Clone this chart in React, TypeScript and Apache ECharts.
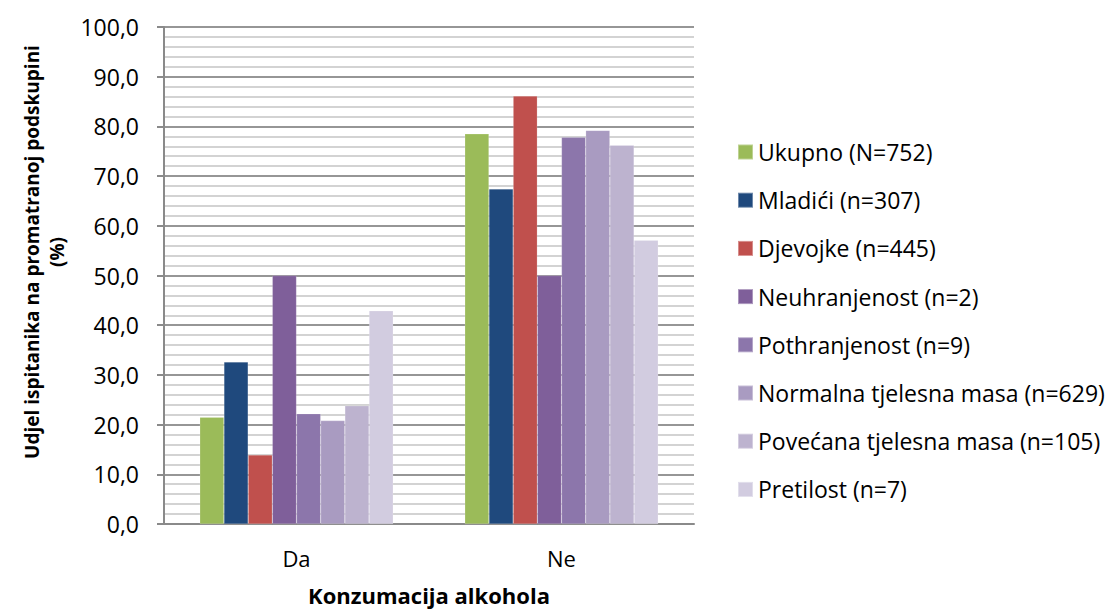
import React, { useEffect, useRef } from "react";
import * as echarts from "echarts";

const categories = ["Da", "Ne"];
const seriesNames = [
  "Ukupno (N=752)",
  "Mladići (n=307)",
  "Djevojke (n=445)",
  "Neuhranjenost (n=2)",
  "Pothranjenost (n=9)",
  "Normalna tjelesna masa (n=629)",
  "Povećana tjelesna masa (n=105)",
  "Pretilost (n=7)",
];
const ukupno = [21.5, 78.5];
const mladici = [32.6, 67.4];
const djevojke = [13.9, 86.1];
const neuhranjenost = [50.0, 50.0];
const pothranjenost = [22.2, 77.8];
const normalna = [20.8, 79.2];
const povecana = [23.8, 76.2];
const pretilost = [42.9, 57.1];
const seriesValues = [ukupno, mladici, djevojke, neuhranjenost, pothranjenost, normalna, povecana, pretilost];
const colors = ["#9BBB59", "#1F497D", "#C0504D", "#7F5F9A", "#8C76AB", "#A99BC1", "#BDB3CF", "#D2CCE0"];

const FONT = "'Open Sans', 'Noto Sans', sans-serif";

export default function App() {
  const ref = useRef<HTMLDivElement>(null);
  useEffect(() => {
    if (!ref.current) return;
    const chart = echarts.init(ref.current, null, { renderer: "svg" });
    chart.setOption({
      animation: false,
      backgroundColor: "#ffffff",
      color: colors,
      textStyle: { fontFamily: FONT },
      grid: { left: 164, right: 417, top: 27, bottom: 86, containLabel: false },
      legend: {
        orient: "vertical",
        left: 737,
        top: 140,
        padding: 0,
        itemWidth: 15,
        itemHeight: 15,
        itemGap: 24.2,
        icon: "rect",
        textStyle: { fontFamily: FONT, fontSize: 23, color: "#000", lineHeight: 24, padding: [0, 0, 0, 0] },
        data: seriesNames,
      },
      xAxis: {
        type: "category",
        data: categories,
        axisLine: { show: true, lineStyle: { color: "#8a8a8a", width: 2 } },
        axisTick: { show: false },
        axisLabel: { color: "#000", fontSize: 22, fontFamily: FONT, margin: 23 },
      },
      yAxis: {
        type: "value",
        min: 0,
        max: 100,
        interval: 10,
        axisLine: { show: true, lineStyle: { color: "#8a8a8a", width: 2 } },
        axisTick: { show: true, length: 7, lineStyle: { color: "#8a8a8a", width: 2 } },
        axisLabel: {
          color: "#000",
          fontSize: 23,
          fontFamily: FONT,
          margin: 25,
          formatter: (v: number) => v.toFixed(1).replace(".", ","),
        },
        splitLine: { show: true, lineStyle: { color: "#969696", width: 2 } },
        minorTick: { show: false, splitNumber: 5 },
        minorSplitLine: { show: true, lineStyle: { color: "#c4c4c4", width: 1.5 } },
      },
      graphic: [
        {
          type: "text",
          x: 44,
          y: 252,
          rotation: Math.PI / 2,
          style: {
            text: "Udjel ispitanika na promatranoj podskupini\n(%)",
            fontFamily: FONT,
            fontWeight: "bold",
            fontSize: 19,
            lineHeight: 25,
            fill: "#000",
            align: "center",
            verticalAlign: "middle",
          },
        },
        {
          type: "text",
          x: 429,
          y: 595,
          style: {
            text: "Konzumacija alkohola",
            fontFamily: FONT,
            fontWeight: "bold",
            fontSize: 22,
            fill: "#000",
            align: "center",
            verticalAlign: "middle",
          },
        },
      ],
      series: seriesNames.map((name, i) => ({
        name,
        type: "bar",
        data: seriesValues[i],
        barGap: "0%",
        barCategoryGap: "27%",
        itemStyle: { color: colors[i], borderColor: "rgba(255,255,255,0.35)", borderWidth: 0.5 },
      })),
    });
    return () => chart.dispose();
  }, []);
  return <div ref={ref} style={{ width: 1111, height: 610, position: "absolute", left: 0, top: 0 }} />;
}
